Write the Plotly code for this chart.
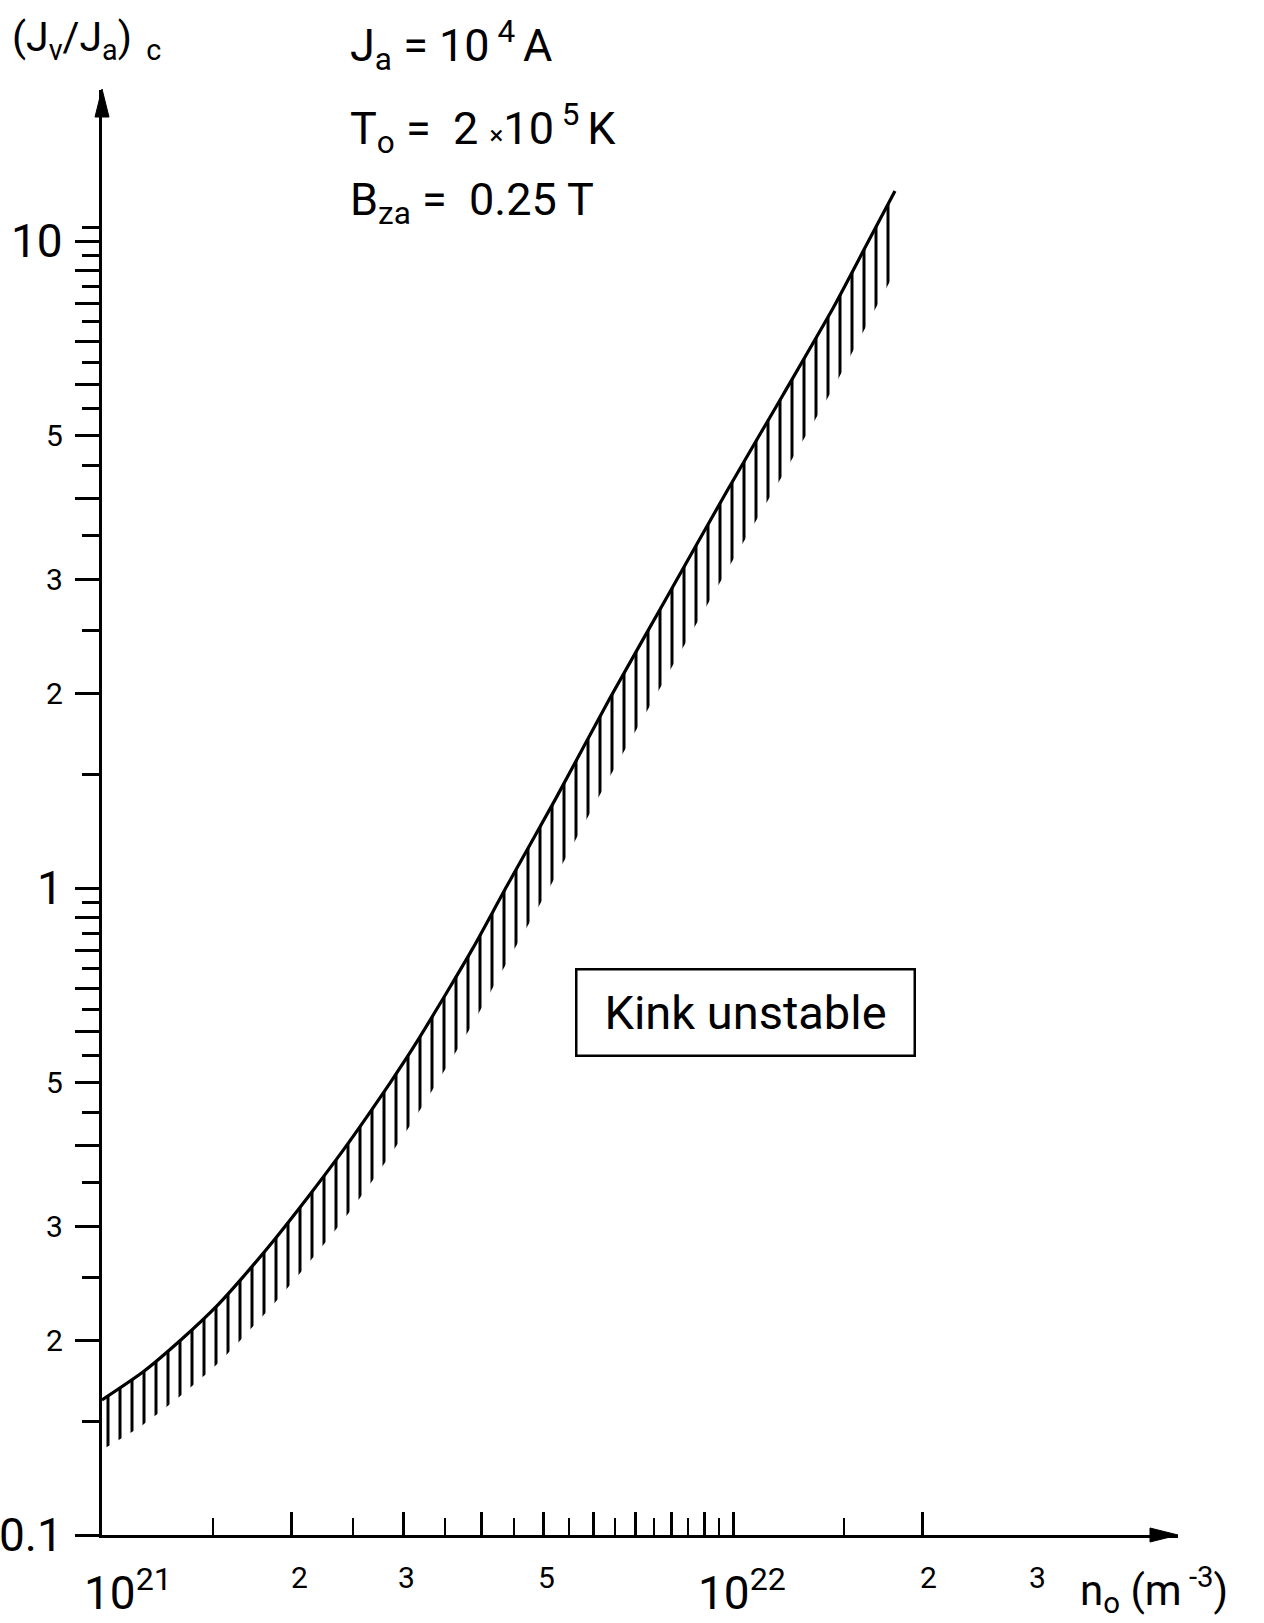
import numpy as np
import plotly.graph_objects as go

# ---------------- data ----------------
n_o = [1.00e21, 1.161e21, 1.344e21, 1.521e21, 1.667e21, 1.880e21, 2.121e21,
       2.410e21, 2.630e21, 2.860e21, 3.111e21, 3.561e21, 3.873e21, 4.384e21,
       5.242e21, 6.384e21, 7.861e21, 9.783e21, 1.200e22, 1.441e22, 1.631e22,
       1.806e22]
jv_ja_c = [0.1617, 0.1786, 0.2016, 0.2260, 0.2495, 0.2868, 0.3330,
           0.3930, 0.4432, 0.4995, 0.5660, 0.7030, 0.8080, 1.008,
           1.377, 1.966, 2.817, 4.108, 5.781, 7.879, 9.90,
           11.95]

# axis ticks
x_major = [2e21, 3e21, 4e21, 5e21, 6e21, 7e21, 8e21, 9e21, 1e22, 2e22]
x_minor = [1.5e21, 2.5e21, 3.5e21, 4.5e21, 5.5e21, 6.5e21, 7.5e21, 8.5e21,
           9.5e21, 1.5e22]
y_major = [0.1, 0.2, 0.3, 0.4, 0.5, 0.6, 0.7, 0.8, 0.9, 1, 2, 3, 4, 5, 6, 7,
           8, 9, 10]
y_minor = [0.15, 0.25, 0.35, 0.45, 0.55, 0.65, 0.75, 0.85, 0.95, 1.5, 2.5,
           3.5, 4.5, 5.5, 6.5, 7.5, 8.5, 9.5, 10.5]

# tick labels
x_label_vals = [1e21, 2e21, 3e21, 5e21, 1e22, 2e22, 3e22]
x_label_text = ["10<sup>21</sup>", "2", "3", "5", "10<sup>22</sup>", "2", "3"]
y_label_vals = [10, 5, 3, 2, 1, 0.5, 0.3, 0.2, 0.1]
y_label_text = ["10", "5", "3", "2", "1", "5", "3", "2", "0.1"]

# ---------------- layout geometry (page pixels) ----------------
W, H = 1264, 1623
X0, X1, Y0, Y1 = 102, 1178, 90, 1535       # plot area
L, T, R, B = X0, Y0, W - X1, H - Y1
PW, PH = X1 - X0, Y1 - Y0
X_DEC, Y_DEC = 631.0, 647.0                  # pixels per decade
x_range = [21, 21 + PW / X_DEC]
y_range = [-1, -1 + PH / Y_DEC]

def px(p):
    return (p - X0) / PW

def py(p):
    return (Y1 - p) / PH

FONT = "Roboto"
BIG, SMALL = 46, 30

fig = go.Figure()

# hatching band below the curve (depth is a drawing style)
logn = np.log10(n_o)
depth = np.interp(logn, [21, 21.22, 21.4, 21.7, 22.26],
                  [0.077, 0.093, 0.110, 0.120, 0.125])
lower = np.array(jv_ja_c) * 10 ** (-depth)

fig.add_trace(go.Scatter(x=n_o, y=lower, mode="lines",
                         line=dict(width=0, color="rgba(0,0,0,0)", shape="spline", smoothing=0.6),
                         hoverinfo="skip", showlegend=False))
fig.add_trace(go.Scatter(x=n_o, y=jv_ja_c, mode="lines",
                         line=dict(width=3.2, color="black", shape="spline", smoothing=0.6),
                         fill="tonexty", fillcolor="white",
                         fillpattern=dict(shape="|", size=12, solidity=0.25,
                                          fgcolor="black", bgcolor="white", fgopacity=1),
                         showlegend=False))

fig.update_xaxes(type="log", range=x_range, showgrid=False, zeroline=False,
                 showline=True, linecolor="black", linewidth=3,
                 ticks="inside", tickmode="array", tickvals=x_major,
                 ticklen=23, tickwidth=2.5, tickcolor="black",
                 showticklabels=False,
                 minor=dict(tickmode="array", tickvals=x_minor, ticks="inside",
                            ticklen=17, tickwidth=2.2, tickcolor="black",
                            showgrid=False))
fig.update_yaxes(type="log", range=y_range, showgrid=False, zeroline=False,
                 showline=True, linecolor="black", linewidth=3,
                 ticks="outside", tickmode="array", tickvals=y_major,
                 ticklen=24, tickwidth=2.8, tickcolor="black",
                 showticklabels=False,
                 minor=dict(tickmode="array", tickvals=y_minor, ticks="outside",
                            ticklen=17, tickwidth=2.5, tickcolor="black",
                            showgrid=False))

ann = []
# y tick labels
for v, t in zip(y_label_vals, y_label_text):
    big = t in ("10", "1", "0.1")
    ann.append(dict(xref="paper", yref="y", x=0, y=np.log10(v), xanchor="right",
                    yanchor="middle", xshift=-37, text=t, showarrow=False, textangle=0,
                    font=dict(family=FONT, size=BIG if big else SMALL, color="black")))
# x tick labels
x_shifts = [-20, 8, 3, 3, -37, 6, 3]
for v, t, s in zip(x_label_vals, x_label_text, x_shifts):
    big = t.startswith("10")
    ann.append(dict(xref="x", yref="paper", x=np.log10(v), y=0,
                    xanchor="left" if big else "center", yanchor="middle",
                    xshift=s, yshift=-55 if big else -42, text=t, showarrow=False,
                    textangle=0,
                    font=dict(family=FONT, size=BIG if big else SMALL, color="black")))

# axis titles and parameter text
ann.append(dict(xref="paper", yref="paper", x=px(1078), y=py(1590), xanchor="left",
                yanchor="middle", text="n<sub>o</sub> (m<sup> -3</sup>)", showarrow=False,
                font=dict(family=FONT, size=42, color="black")))
ann.append(dict(xref="paper", yref="paper", x=px(10), y=py(40), xanchor="left",
                yanchor="middle", text="(J<sub>v</sub>/J<sub>a</sub>)<sub>  c</sub>",
                showarrow=False, font=dict(family=FONT, size=41, color="black")))
ann.append(dict(xref="paper", yref="paper", x=px(348), y=py(46), xanchor="left",
                yanchor="middle", text="J<sub>a</sub> = 10<sup> 4 </sup>A",
                showarrow=False, font=dict(family=FONT, size=45, color="black")))
ann.append(dict(xref="paper", yref="paper", x=px(348), y=py(129), xanchor="left",
                yanchor="middle",
                text="T<sub>o</sub> =  2 <span style='font-size:26px'>×</span>10<sup> 5 </sup>K",
                showarrow=False, font=dict(family=FONT, size=45, color="black")))
ann.append(dict(xref="paper", yref="paper", x=px(348), y=py(203), xanchor="left",
                yanchor="middle", text="B<sub>za</sub> =  0.25 T",
                showarrow=False, font=dict(family=FONT, size=45, color="black")))
# region label
ann.append(dict(xref="paper", yref="paper", x=px(745), y=py(1012), xanchor="center",
                yanchor="middle", text="Kink unstable", showarrow=False,
                width=332, height=80, borderpad=2, bordercolor="black", borderwidth=2.5,
                bgcolor="white", font=dict(family=FONT, size=47, color="black")))

fig.update_layout(annotations=ann)

# arrow heads at the ends of the axes
fig.add_shape(type="path", xref="paper", yref="paper", xsizemode="pixel", ysizemode="pixel",
              xanchor=0, yanchor=1, path="M 0 1 L -7 -27 L 7 -27 Z",
              fillcolor="black", line=dict(color="black", width=1))
fig.add_shape(type="path", xref="paper", yref="paper", xsizemode="pixel", ysizemode="pixel",
              xanchor=1, yanchor=0, path="M 0 0 L -28 7 L -28 -7 Z",
              fillcolor="black", line=dict(color="black", width=1))

fig.update_layout(width=W, height=H, margin=dict(l=L, r=R, t=T, b=B, autoexpand=False),
                  paper_bgcolor="white", plot_bgcolor="white", showlegend=False)

fig.write_html("out.html", config={"displayModeBar": False},
               post_script="document.body.style.margin='0';document.body.style.overflow='hidden';")
